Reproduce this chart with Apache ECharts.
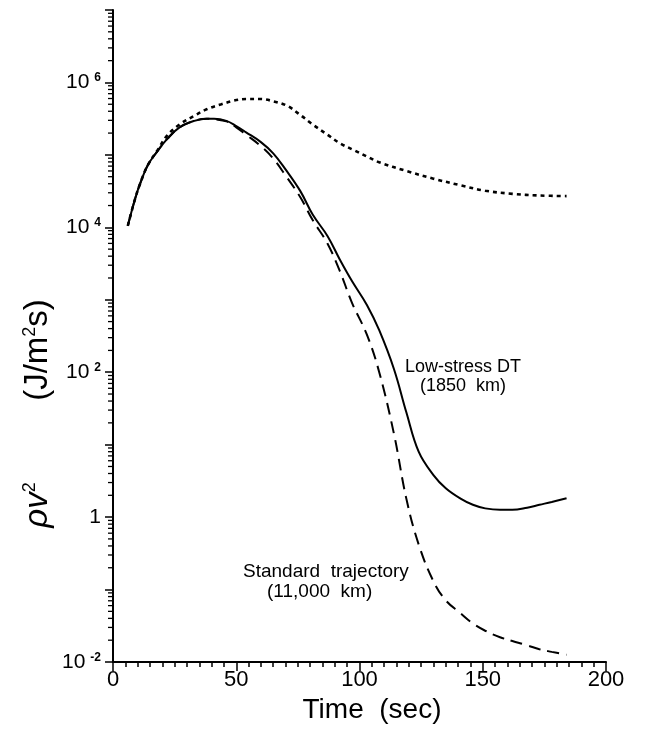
<!DOCTYPE html>
<html><head><meta charset="utf-8">
<script src="https://cdn.jsdelivr.net/npm/echarts@6/dist/echarts.min.js"></script>
<style>html,body{margin:0;padding:0;background:#fff}#c{width:665px;height:733px}</style>
</head><body><div id="c"></div>
<script>
// ---- data (time in sec, rho v^2 in J/m^2 s) ----
const timeSolid = [6,9,11,14,18,22,27,33,38,41,46,50,54,60,65,70,76,81,87,92,97,103,108,114,119,124,130,135,141,146,151,157,162,168,173,178,184];
const lowStressDT = [1.05e4,2.5e4,4.0e4,7.1e4,1.12e5,1.66e5,2.4e5,2.95e5,3.16e5,3.16e5,2.95e5,2.5e5,2.05e5,1.5e5,1.05e5,6.3e4,3.16e4,1.5e4,7.6e3,3.6e3,1.8e3,850,380,110,28,8,3.8,2.5,1.8,1.48,1.32,1.26,1.26,1.35,1.48,1.62,1.82];
const timeDashed = [6,9,11,14,18,22,27,33,38,41,46,50,54,60,65,70,76,81,87,92,97,103,108,114,119,124,130,135,141,146,151,157,162,168,173,178,184];
const standardTraj = [1.05e4,2.5e4,4.0e4,7.1e4,1.12e5,1.66e5,2.4e5,2.95e5,3.16e5,3.1e5,2.9e5,2.4e5,1.9e5,1.32e5,8.9e4,5.2e4,2.6e4,1.26e4,6.0e3,2.5e3,900,330,100,14,1.8,0.42,0.13,0.071,0.047,0.034,0.027,0.022,0.0195,0.017,0.015,0.0138,0.0126];
const timeDotted = [6,9,11,14,18,22,27,33,38,44,49,54,60,65,71,76,81,87,92,98,103,108,119,130,141,151,162,173,184];
const dottedCurve = [1.05e4,2.5e4,4.0e4,7.1e4,1.15e5,1.86e5,2.63e5,3.47e5,4.27e5,5.0e5,5.6e5,5.9e5,5.9e5,5.5e5,4.7e5,3.55e5,2.63e5,1.9e5,1.45e5,1.15e5,9.5e4,7.9e4,6.0e4,4.7e4,3.8e4,3.2e4,2.9e4,2.75e4,2.7e4];
const xTickValues = [0,50,100,150,200];
const yLabelExponents = [-2,0,2,4,6];
const yDecades = [-2,-1,0,1,2,3,4,5,6];

function pairs(xs, ys){ return xs.map((x,i)=>[x, ys[i]]); }
const minorY = [];
yDecades.forEach(k => { for (let m = 2; m <= 9; m++) minorY.push([0, m*Math.pow(10,k)]); });

const FONT = '"Liberation Sans","DejaVu Sans",sans-serif';
const chart = echarts.init(document.getElementById('c'), null, {renderer:'canvas'});
chart.setOption({
  animation:false,
  backgroundColor:'#fff',
  grid:{left:113, right:59, top:10, bottom:71, containLabel:false},
  xAxis:{
    type:'value', min:0, max:200, interval:50,
    axisLine:{show:true, onZero:false, lineStyle:{color:'#000', width:2}},
    axisTick:{show:true, length:9, lineStyle:{color:'#000', width:1.5}},
    minorTick:{show:true, splitNumber:10, length:5, lineStyle:{color:'#000', width:1.5}},
    splitLine:{show:false},
    axisLabel:{color:'#000', fontSize:22, fontFamily:FONT, margin:7,
      formatter: v => xTickValues.indexOf(v) >= 0 ? String(v) : ''}
  },
  yAxis:{
    type:'log', logBase:10, min:0.01, max:1e7,
    axisLine:{show:true, onZero:false, lineStyle:{color:'#000', width:2}},
    axisTick:{show:true, length:8, lineStyle:{color:'#000', width:1.5}},
    splitLine:{show:false},
    axisLabel:{color:'#000', fontSize:21, fontFamily:FONT, margin:12,
      formatter: v => {
        const e = Math.round(Math.log10(v));
        if (yLabelExponents.indexOf(e) < 0) return '';
        if (e === 0) return '1';
        return '10{e|' + e + '}';
      },
      rich:{e:{fontSize:12, fontWeight:'bold', verticalAlign:'top', padding:[0,0,0,5], fontFamily:FONT, color:'#000'}}
    }
  },
  series:[
    {type:'line', data:pairs(timeSolid, lowStressDT), showSymbol:false, smooth:0.4,
      lineStyle:{color:'#000', width:2}},
    {type:'line', data:pairs(timeDashed, standardTraj), showSymbol:false, smooth:0.4,
      lineStyle:{color:'#000', width:2, type:[12,7]}},
    {type:'line', data:pairs(timeDotted, dottedCurve), showSymbol:false, smooth:0.35,
      lineStyle:{color:'#000', width:2.6, type:[4,4]}},
    {type:'custom', data:minorY, clip:false, silent:true,
      renderItem:(params, api) => {
        const p = api.coord([api.value(0), api.value(1)]);
        return {type:'line', shape:{x1:p[0]-5, y1:p[1], x2:p[0], y2:p[1]}, style:{stroke:'#000', lineWidth:1.3}};
      }}
  ],
  graphic:[
    {type:'text', x:372, y:710, style:{text:'Time  (sec)', fill:'#000', font:'28px '+FONT, align:'center', verticalAlign:'middle'}},
    {type:'text', x:405, y:358, style:{text:'Low-stress DT', fill:'#000', font:'18px '+FONT}},
    {type:'text', x:420, y:377, style:{text:'(1850  km)', fill:'#000', font:'18px '+FONT}},
    {type:'text', x:243, y:562, style:{text:'Standard  trajectory', fill:'#000', font:'19px '+FONT}},
    {type:'text', x:267, y:582, style:{text:'(11,000  km)', fill:'#000', font:'19px '+FONT}},
    {type:'text', x:38, y:505, rotation:Math.PI/2,
      style:{text:'\u03c1v{s|2}', fill:'#000', font:'italic 33px '+FONT, align:'center', verticalAlign:'middle',
        rich:{s:{fontSize:18, verticalAlign:'top', fontFamily:FONT}}}},
    {type:'text', x:38, y:350, rotation:Math.PI/2,
      style:{text:'(J/m{s|2}s)', fill:'#000', font:'33px '+FONT, align:'center', verticalAlign:'middle',
        rich:{s:{fontSize:18, verticalAlign:'top', fontFamily:FONT}}}}
  ]
});
</script></body></html>
